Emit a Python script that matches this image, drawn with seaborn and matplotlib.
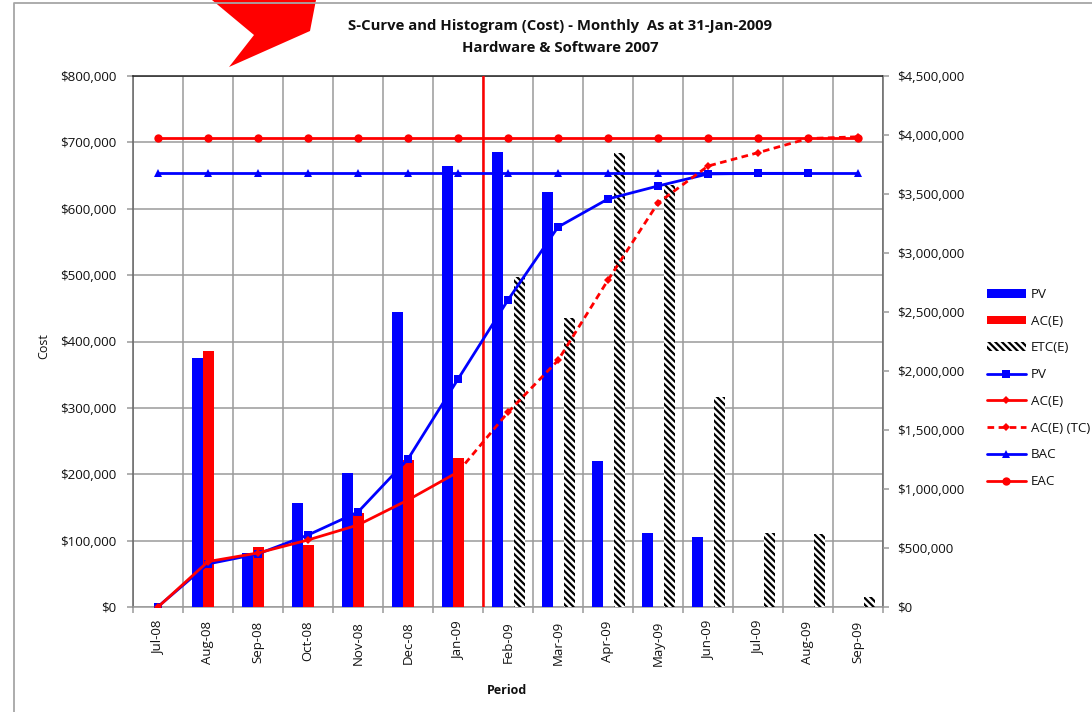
import numpy as np
import pandas as pd
import matplotlib
matplotlib.use("Agg")
import matplotlib.pyplot as plt
import seaborn as sns
from matplotlib.lines import Line2D
from matplotlib.patches import Patch, Polygon
from matplotlib.ticker import FuncFormatter, MultipleLocator

periods = ["Jul-08","Aug-08","Sep-08","Oct-08","Nov-08","Dec-08","Jan-09","Feb-09",
           "Mar-09","Apr-09","May-09","Jun-09","Jul-09","Aug-09","Sep-09"]
n = np.nan
pv_bars = [0,375000,81000,157000,202000,444000,664000,685000,625000,220000,112000,105000,n,n,n]
ac_bars = [0,386000,90000,93000,141000,221000,224000,n,n,n,n,n,n,n,n]
etc_bars = [n,n,n,n,n,n,n,497000,435000,684000,636000,316000,112000,110000,15000]
pv_line = [3000,365000,450000,610000,805000,1254000,1931000,2602000,3220000,3458000,3568000,3670000,3675000,3675000,n]
ac_line = [0,385000,458000,568000,695000,907000,1144000,n,n,n,n,n,n,n,n]
ac_tc_line = [n,n,n,n,n,n,1144000,1650000,2090000,2771000,3424000,3737000,3850000,3970000,3985000]
bac_line = [3675000]*15
eac_line = [3972000]*15
data_date_pos = 6.5

title = "S-Curve and Histogram (Cost) - Monthly  As at 31-Jan-2009\nHardware & Software 2007"

sns.set_theme(style="white")
plt.rcParams["font.family"] = ["Open Sans", "DejaVu Sans"]
plt.rcParams["hatch.linewidth"] = 1.6
W, H = 1092, 712
fig = plt.figure(figsize=(W/100, H/100), dpi=100)
ax = fig.add_axes([133/W, 1-607/H, 750/W, 531/H])

bars = pd.DataFrame({
    "Period": periods*3,
    "Series": ["PV"]*15 + ["AC(E)"]*15 + ["ETC(E)"]*15,
    "Value": pv_bars + ac_bars + etc_bars,
})
palette = {"PV": "#0000ff", "AC(E)": "#ff0000", "ETC(E)": "white"}
sns.barplot(data=bars, x="Period", y="Value", hue="Series", order=periods,
            hue_order=["PV","AC(E)","ETC(E)"], palette=palette, width=0.66, gap=0,
            dodge=True, saturation=1, legend=False, ax=ax, zorder=3, linewidth=0)
for patch in ax.containers[2]:
    patch.set_hatch("\\\\\\\\\\")
    patch.set_edgecolor("black")
    patch.set_linewidth(0)

ax.set_xlim(-0.5, 14.5)
ax.set_ylim(0, 800000)
ax.yaxis.set_major_locator(MultipleLocator(100000))
money = FuncFormatter(lambda v, _: f"${v:,.0f}")
ax.yaxis.set_major_formatter(money)
ax.set_xticks(np.arange(15))
ax.set_xticklabels(periods, rotation=90)
ax.set_xticks(np.arange(-0.5, 15), minor=True)
grid_c = "#9a9a9a"
ax.grid(True, which="minor", axis="x", color=grid_c, lw=1.1, zorder=0)
ax.grid(True, which="major", axis="y", color=grid_c, lw=1.1, zorder=0)
ax.set_axisbelow(True)
ax.tick_params(axis="x", which="major", length=0, pad=10, labelsize=9.5, colors="#111111")
ax.tick_params(axis="x", which="minor", length=4, width=1.1, color=grid_c, bottom=True)
ax.tick_params(axis="y", length=4, width=1.1, color=grid_c, left=True, labelsize=9.6, pad=8, labelcolor="#111111")
ax.set_xlabel("")
ax.set_ylabel("")
for s, c in {"left":"#666666","right":"#666666","top":"#222222","bottom":grid_c}.items():
    ax.spines[s].set_color(c)
    ax.spines[s].set_linewidth(1.1)

ax2 = ax.twinx()
ax2.set_ylim(0, 4500000)
ax2.yaxis.set_major_locator(MultipleLocator(500000))
ax2.yaxis.set_major_formatter(money)
ax2.tick_params(axis="y", length=4, width=1.1, color=grid_c, right=True, labelsize=9.6, pad=6, labelcolor="#111111")
ax2.grid(False)
ax2.set_ylabel("")
for s in ax2.spines.values():
    s.set_visible(False)

pos = np.arange(15)
lw = 2.0
dash = (0, (2.4, 1.6))
sns.lineplot(x=pos, y=pv_line, ax=ax2, color="#0000ff", lw=lw, marker="s", ms=6, mew=0, zorder=5, errorbar=None)
sns.lineplot(x=pos, y=bac_line, ax=ax2, color="#0000ff", lw=lw, marker="^", ms=6, mew=0, zorder=5, errorbar=None)
sns.lineplot(x=pos, y=ac_line, ax=ax2, color="#ff0000", lw=lw, marker="D", ms=3.8, mew=0, zorder=6, errorbar=None)
sns.lineplot(x=pos, y=ac_tc_line, ax=ax2, color="#ff0000", lw=lw, ls=dash, marker="D", ms=3.8, mew=0, zorder=6, errorbar=None)
sns.lineplot(x=pos, y=eac_line, ax=ax2, color="#ff0000", lw=lw, marker="o", ms=6, mew=0, zorder=6, errorbar=None)
ax2.axvline(data_date_pos, color="#ff0000", lw=1.8, zorder=4)
ax2.set_xlim(-0.5, 14.5)

handles = [
    Patch(facecolor="#0000ff", edgecolor="none"),
    Patch(facecolor="#ff0000", edgecolor="none"),
    Patch(facecolor="white", edgecolor="black", hatch="\\\\\\\\\\", linewidth=0),
    Line2D([], [], color="#0000ff", lw=lw, marker="s", ms=6, mew=0),
    Line2D([], [], color="#ff0000", lw=lw, marker="D", ms=3.8, mew=0),
    Line2D([], [], color="#ff0000", lw=lw, ls=dash, marker="D", ms=3.8, mew=0),
    Line2D([], [], color="#0000ff", lw=lw, marker="^", ms=6, mew=0),
    Line2D([], [], color="#ff0000", lw=lw, marker="o", ms=6, mew=0),
]
labels = ["PV","AC(E)","ETC(E)","PV","AC(E)","AC(E) (TC)","BAC","EAC"]
fig.legend(handles, labels, loc="center left", bbox_to_anchor=(987/W, 1-388/H), frameon=False,
           fontsize=9.6, handlelength=2.92, handleheight=0.63, handletextpad=0.35,
           labelspacing=1.03, labelcolor="#111111", borderpad=0, borderaxespad=0)

fig.text(560/W, 1-37/H, title, ha="center", va="center", fontsize=10.7, fontweight="bold",
         color="#111111", linespacing=1.65)
fig.text(507/W, 1-690/H, "Period", ha="center", va="center", fontsize=9, fontweight="bold", color="#111111")
fig.text(44/W, 1-346/H, "Cost", ha="center", va="center", rotation=90, fontsize=9, color="#111111")

# slide frame and callout arrow overlapping the chart
fig.add_artist(Line2D([14/W, 14/W, 1], [0, 1-3/H, 1-3/H], transform=fig.transFigure, color="#a6a6a6", lw=1.3))
arrow_px = [(212,0),(254,35),(229,67),(310,31),(316,0)]
fig.add_artist(Polygon([(x/W, 1-y/H) for x, y in arrow_px], closed=True, transform=fig.transFigure,
                       facecolor="#ff0000", edgecolor="none"))

fig.savefig("out.png", dpi=100)
